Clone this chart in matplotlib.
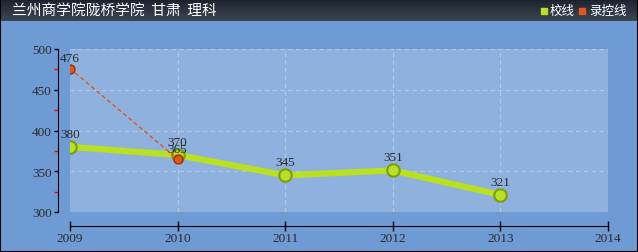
import matplotlib
matplotlib.use("Agg")
import matplotlib.pyplot as plt
from matplotlib.patches import Rectangle
import numpy as np

# data
years = [2009, 2010, 2011, 2012, 2013]
school_line = [380, 370, 345, 351, 321]
ctrl_years = [2009, 2010]
ctrl_line = [476, 365]
x_ticks = [2009, 2010, 2011, 2012, 2013, 2014]
y_ticks = [300, 350, 400, 450, 500]
title = "兰州商学院陇桥学院  甘肃  理科"
legend_labels = ["校线", "录控线"]

W, H = 638, 253
GREEN = "#b9e021"
GREEN_EDGE = "#7f9c12"
ORANGE = "#e0561b"
ORANGE_EDGE = "#9a2e0c"
cjk = ["Noto Sans CJK SC", "DejaVu Sans"]
num_font = "Liberation Serif"

fig = plt.figure(figsize=(W / 100, H / 100), dpi=100)
fig.patch.set_facecolor("#6f9bd5")

# header bar with gradient (dark on top)
hdr = fig.add_axes([0, 1 - 22 / H, 1, 22 / H])
grad = np.linspace(0, 1, 50).reshape(-1, 1)
hdr.imshow(grad, aspect="auto", cmap=matplotlib.colors.LinearSegmentedColormap.from_list(
    "h", ["#1c232e", "#3c4653"]), extent=[0, 1, 0, 1])
hdr.set_xlim(0, 1)
hdr.set_ylim(0, 1)
hdr.axis("off")
hdr.text(12 / W, 0.5, title, color="white", fontsize=10.6, family=cjk, va="center", ha="left")
hdr.add_patch(Rectangle((541 / W, 0.3), 6 / W, 0.3, color=GREEN))
hdr.text(550 / W, 0.47, legend_labels[0], color="white", fontsize=9, family=cjk, va="center")
hdr.add_patch(Rectangle((579 / W, 0.3), 6 / W, 0.3, color=ORANGE))
hdr.text(589 / W, 0.47, legend_labels[1], color="white", fontsize=9, family=cjk, va="center")

# main plot
left, right, top, bottom = 70, 608, 50, 213
ax = fig.add_axes([left / W, 1 - bottom / H, (right - left) / W, (bottom - top) / H])
ax.set_facecolor("#8fb1de")
ax.set_xlim(2009, 2014)
ax.set_ylim(300, 500)

for y in y_ticks[1:]:
    ax.axhline(y, color="#b3c9ea", lw=0.8, ls=(0, (4, 3)), zorder=1)
for x in x_ticks[1:]:
    ax.axvline(x, color="#b3c9ea", lw=0.8, ls=(0, (4, 3)), zorder=1)

for s in ["top", "right"]:
    ax.spines[s].set_visible(False)
ax.spines["left"].set_position(("outward", 9))
ax.spines["bottom"].set_position(("outward", 10))
ax.spines["left"].set_color("black")
ax.spines["bottom"].set_color("black")

ax.set_xticks(x_ticks)
ax.set_yticks(y_ticks)
ax.set_xticklabels([str(v) for v in x_ticks], family=num_font, fontsize=9.5, color="#2a2a2a")
ax.set_yticklabels([str(v) for v in y_ticks], family=num_font, fontsize=9.5, color="#2a2a2a")
ax.tick_params(axis="x", direction="inout", length=7, width=1, pad=1)
ax.tick_params(axis="y", direction="out", length=3, width=1, pad=1)
ax.set_yticks([325, 375, 425, 475], minor=True)
ax.tick_params(axis="y", which="minor", direction="out", length=3, width=1, color="red")

ax.plot(years, school_line, color=GREEN, lw=4.5, zorder=3, solid_capstyle="round")
ax.plot(years, school_line, "o", ms=9, mfc=GREEN, mec=GREEN_EDGE, mew=1.5, zorder=4)
ax.plot(ctrl_years, ctrl_line, color=ORANGE, lw=1, ls=(0, (3, 2)), zorder=5)
ax.plot(ctrl_years, ctrl_line, "o", ms=6.5, mfc=ORANGE, mec=ORANGE_EDGE, mew=1, zorder=6)

for x, y in zip(years, school_line):
    ax.annotate(str(y), (x, y), xytext=(0, 5), textcoords="offset points", ha="center",
                va="bottom", family=num_font, fontsize=9.5, color="#2a2a2a", zorder=7)
for x, y in zip(ctrl_years, ctrl_line):
    ax.annotate(str(y), (x, y), xytext=(0, 3), textcoords="offset points", ha="center",
                va="bottom", family=num_font, fontsize=9.5, color="#2a2a2a", zorder=7)

# outer border
fig.patches.append(Rectangle((0, 0), 1, 1, transform=fig.transFigure, fill=False,
                             edgecolor="black", linewidth=1.5, zorder=10))

fig.savefig("out.png", dpi=100)
